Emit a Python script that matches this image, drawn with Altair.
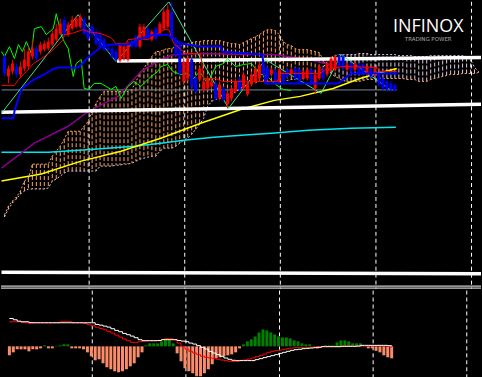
import altair as alt
import pandas as pd

# ---------------- price candles (level units) ----------------
BARS = list(range(99))
OPEN = [245,225,230,235,227,233,235,245,253,250,
        252,253,257,262,268,282,267,273,275,275,
        282,272,275,270,267,262,254,253,250,241,
        243,242,260,265,255,265,273,262,273,268,
        273,275,290,262,257,220,223,242,223,222,
        212,213,215,218,203,213,197,203,210,222,
        213,207,217,220,223,238,233,227,230,220,
        228,232,228,233,232,223,223,232,213,223,
        232,227,232,232,245,245,232,238,232,237,
        237,228,233,227,227,223,220,218,216]
HIGH = [248,236,242,238,240,253,255,262,256,260,
        261,264,271,278,283,285,280,286,286,288,
        285,275,278,273,270,265,257,256,253,259,
        257,260,262,267,278,278,275,272,275,280,
        293,297,300,265,260,243,245,244,226,235,
        223,226,223,221,220,215,211,215,223,225,
        230,220,230,236,240,242,236,234,233,234,
        230,234,234,235,234,232,234,234,229,237,
        234,240,245,247,247,247,239,240,240,239,
        239,237,235,235,229,225,222,220,218]
LOW = [225,218,227,224,224,230,232,242,240,247,
       250,251,255,260,266,265,265,271,273,273,
       266,261,264,256,253,250,250,243,240,239,
       241,240,253,253,253,263,261,260,261,266,
       271,273,261,245,225,217,220,212,208,220,
       209,211,213,201,201,200,193,200,208,210,
       211,205,215,218,221,226,221,225,218,218,
       218,223,226,221,218,221,221,216,208,221,
       221,225,230,230,233,231,230,228,230,226,
       226,226,223,225,215,211,210,210,210]
CLOSE = [228,233,238,227,235,242,250,253,243,257,
         258,260,268,273,278,267,277,282,283,285,
         268,263,267,258,255,252,252,245,242,257,
         255,258,255,255,275,275,263,270,263,278,
         290,292,263,247,228,240,243,215,210,233,
         220,223,220,203,217,202,208,213,220,212,
         227,218,227,233,237,228,223,232,220,232,
         220,225,232,223,220,230,232,218,227,235,
         223,238,243,245,235,233,237,230,238,228,
         228,235,225,233,217,213,212,212,211]

# ---------------- Ichimoku cloud (shifted 26 bars forward) ----------------
CLOUD_BARS = list(range(120))
SPAN_A = [86,95,100,104,110,120,123,137,137,137,
          137,137,145,150,155,162,170,170,170,170,
          175,180,190,198,205,210,210,210,210,210,
          210,210,212,220,228,233,240,245,250,250,
          252,253,253,255,256,257,258,259,260,260,
          261,261,261,261,261,260,259,258,258,257,
          259,261,263,265,267,270,272,272,271,267,
          260,257,256,253,252,252,252,251,250,249,
          242,234,228,225,223,221,220,220,220,220,
          221,222,222,222,223,223,223,223,223,223,
          223,222,222,222,220,220,220,222,223,224,
          225,226,227,227,227,228,228,228,228,229]
SPAN_B = [84,92,98,102,107,110,112,112,112,112,
          112,113,120,122,125,128,130,130,130,130,
          130,130,130,130,135,135,135,135,136,136,
          137,137,138,140,142,143,144,145,145,150,
          153,153,153,155,158,161,163,167,172,177,
          183,195,200,202,203,204,205,207,210,212,
          215,217,218,219,220,220,220,220,220,220,
          221,221,222,222,223,223,224,224,225,225,
          234,240,244,246,247,247,247,247,247,248,
          248,248,247,247,247,247,247,247,247,246,
          246,246,246,245,245,245,245,246,246,246,
          246,246,246,246,246,246,245,242,234,230]

# ---------------- indicator lines (bar, level) ----------------
TENKAN = [(-0.75,216),(2.5,216),(3.5,222),(5.5,230),(7.25,238),(9.25,243),(11.75,250),
          (13.5,257),(14.75,262),(15,267),(16.75,268),(19.75,272),(21,270),(24.25,268),
          (26.75,264),(28,258),(30.5,258),(31,262),(33.5,263),(36,262),(38,267),(40,272),
          (41.25,272),(42.5,258),(45.5,248),(49.25,248),(50,223),(53,223),(54.75,220),
          (68.5,220),(69.25,228),(79.25,228),(80.5,232),(85,235),(93.5,234),(94.25,230),
          (98.5,230)]
KIJUN = [(-0.75,183),(2.25,183),(2.5,190),(3.5,203),(4.25,212),(5,215),(7.5,222),(10,227),
         (12.5,233),(13.75,234),(18.5,234),(20,240),(21.25,245),(23.5,252),(24.25,255),
         (26.75,257),(31,257),(33.5,262),(37.5,267),(41,267),(44.25,258),(49.25,255),
         (54.25,255),(54.75,250),(64.75,247),(65.5,218),(83.75,218),(87,228),(98.75,228)]
CHIKOU = [(-0.75,250),(0,245),(1.25,255),(2.5,243),(3.5,257),(4.5,250),(5.5,260),(6.75,248),
          (7.5,273),(9.25,275),(10.5,267),(12.25,273),(13,288),(14.25,267),(15,260),(16,253),
          (17.25,225),(18,238),(19.25,242),(20,213),(21.25,212),(22.5,218),(24.25,218),
          (26.75,212),(28,215),(29.25,203),(31,215),(32.5,220),(34.25,215),(36.25,223),
          (38.5,230),(39.25,235),(41,237),(42.25,230),(44.25,227),(46,228),(47.5,223),
          (49,230),(51,218),(53,235),(55,238),(56,243),(58,235),(60,237),(62,238),(64,228),
          (66,225),(68,217),(70,212),(72,211)]
ZIGZAG = [(-0.75,188),(18.5,287),(28,240),(41.25,300),(56.25,193),(65.5,242),(79.5,208),
          (84.5,247),(96.75,212)]
MA_PURPLE = [(-0.75,133),(7.5,158),(16,175),(20,187),(23.5,195),(28.5,205),(34.25,230),
             (39.25,242),(42.5,247),(49.25,248),(59.5,247),(67.75,247),(76.25,242),(81.75,237)]
MA_YELLOW = [(-0.75,120),(9.25,127),(19.25,140),(29.25,150),(39.25,163),(49.25,178),
             (59.5,192),(67.75,201),(74.25,205),(82.5,213),(89.25,223),(93.5,228),(98.5,233)]
MA_CYAN = [(-0.75,149),(11,149),(22.5,152),(32.5,155),(39.25,158),(45,161),(52.5,164),
           (59.5,166),(67,168),(76.25,171),(87,173),(98.25,174)]
GREY_LEVEL = [(-0.75,211.5),(98.5,211.5)]
TREND_UPPER = [(28.25,240.5),(119.75,244)]
TREND_MIDDLE = [(-0.75,189),(119.75,197)]
TREND_LOWER = [(-0.75,28.5),(119.75,27)]
PANEL_BORDERS = [14.5, 12.5]
PERIOD_SEPARATORS = [21.25, 45.25, 69.25, 93.25, 117.25]

# ---------------- MACD panel ----------------
MACD_HIST = [-9,-6,-3,-3,-3,-5,-3,-3,-2,1,
             -2,-2,0.5,1,2,2,-2,-2,-2,-3,
             -6,-10,-14,-13,-17,-21,-23,-25,-26,-25,
             -23,-20,-17,-11,-6,1,3,3,3,5,
             8,7,3,-7,-15,-22,-25,-27,-30,-30,
             -27,-23,-18,-12,-11,-10,-9,-8,-6,-2,
             2,5,7,10,14,17,16,14,12,10,
             9,9,8,6,5,3,2,2,0.5,-2,
             0.3,1,1,1,4,6,6,5,3,3,
             3,0.5,-2,-2,-4.5,-6,-9,-11,-12]
MACD_MAIN = [28,26.7,25.3,24.7,24.7,24,23.7,23.7,23.7,23.7,
             23.7,23.7,23.7,23.7,23.7,23.7,23.7,23.7,23.7,23.7,
             23.7,23.7,22,21.3,20.3,19.3,17.7,16,14.7,13,
             11.7,10.3,8.7,6.7,5.7,5.7,5.7,5.7,5.9,6.7,
             6.7,6.7,6.7,5.9,5.3,4.7,3.3,2.3,0.7,-1,
             -2.7,-5,-6.7,-8.3,-10,-11.7,-13,-14,-14.3,-14.3,
             -14.3,-14.3,-14.3,-13.3,-12.3,-11.3,-10.3,-9.3,-8.3,-7,
             -6,-5,-4,-3.3,-3,-2.3,-2,-1.7,-1.3,-1,
             -0.3,-0.3,-0.3,-0.3,-0.3,0,0,0,0,0.3,
             1,1,1,1,1,1,1,0.7,0]
MACD_SIGNAL = [24.7,24.7,24.7,24,23.7,23,23.7,23.7,23.7,23.7,
               23.7,23.7,23.7,24.7,24.7,24.7,23.7,23.7,23.7,23,
               21.7,20.7,19.3,18,16.7,15,13.3,11.3,9.3,7.3,
               5.7,4,4,4.7,5.3,5.7,5.7,5.7,5.7,7,
               7.7,7.7,6.7,3.3,0,-2.7,-5,-6.7,-8.3,-10,
               -11,-11.7,-12,-13,-13.7,-14.3,-15,-15.3,-15,-14,
               -13.7,-12.7,-11.7,-10.3,-9.3,-7.7,-6,-5,-4.3,-3.7,
               -3,-2.3,-1.7,-1.3,-1.3,-1.3,-1.3,-1,-0.7,-0.3,
               -0.3,-0.3,-0.3,-0.3,-0.3,0.3,0.3,0.3,0.3,0.3,
               0.3,0.3,0.7,0.7,0.7,0.7,0.7,-0.3,-1.3]

# ---------------- scales & helpers ----------------
XS = alt.Scale(domain=[-0.875, 119.625], nice=False, zero=False)
YS = alt.Scale(domain=[12, 300], nice=False, zero=False)
MS = alt.Scale(domain=[-33, 56], nice=False, zero=False)


def xq(field="bar"):
    return alt.X(f"{field}:Q", scale=XS, axis=None)


def yq(field, scale=YS):
    return alt.Y(f"{field}:Q", scale=scale, axis=None)


def path(points, color, width, dash=None, scale=YS):
    df = pd.DataFrame(points, columns=["bar", "level"])
    df["i"] = range(len(df))
    kw = dict(color=color, strokeWidth=width, clip=True)
    if dash:
        kw["strokeDash"] = dash
    return alt.Chart(df).mark_line(**kw).encode(x=xq(), y=yq("level", scale), order="i:Q")


def separators():
    df = pd.DataFrame({"bar": PERIOD_SEPARATORS})
    return alt.Chart(df).mark_rule(color="white", strokeWidth=1, strokeDash=[4, 3]).encode(x=xq())


# cloud
kdf = pd.DataFrame({"bar": CLOUD_BARS, "spanA": SPAN_A, "spanB": SPAN_B})
hatch = alt.Chart(kdf).mark_rule(strokeWidth=1, strokeDash=[4, 2], clip=True).encode(
    x=xq(), y=yq("spanA"), y2="spanB:Q",
    color=alt.condition("datum.spanA >= datum.spanB", alt.value("#FFA25E"), alt.value("#E2C8E2")))
edge_a = alt.Chart(kdf).mark_line(color="#FFA25E", strokeWidth=1, strokeDash=[2, 2], clip=True).encode(
    x=xq(), y=yq("spanA"))
edge_b = alt.Chart(kdf).mark_line(color="#E2C8E2", strokeWidth=1, strokeDash=[2, 2], clip=True).encode(
    x=xq(), y=yq("spanB"))

# candles
cdf = pd.DataFrame({"bar": BARS, "open": OPEN, "high": HIGH, "low": LOW, "close": CLOSE})
ccol = alt.condition("datum.close >= datum.open", alt.value("#FF0000"), alt.value("#0000FF"))
wicks = alt.Chart(cdf).mark_rule(strokeWidth=1).encode(x=xq(), y=yq("low"), y2="high:Q", color=ccol)
bodies = alt.Chart(cdf).mark_rule(strokeWidth=3).encode(x=xq(), y=yq("open"), y2="close:Q", color=ccol)

borders = alt.Chart(pd.DataFrame({"level": PANEL_BORDERS})).mark_rule(
    color="white", strokeWidth=1).encode(y=yq("level"))

logo = alt.Chart(pd.DataFrame({"t": ["INFINOX"]})).mark_text(
    font="Open Sans", fontSize=18, fontWeight="normal", color="white", align="center",
    baseline="alphabetic").encode(text="t:N", x=alt.value(429), y=alt.value(30))
tagline = alt.Chart(pd.DataFrame({"t": ["TRADING POWER"]})).mark_text(
    font="DejaVu Sans", fontSize=5.5, color="#a8a8a8", align="center",
    baseline="alphabetic").encode(text="t:N", x=alt.value(429), y=alt.value(39.5))

main = alt.layer(
    hatch, edge_a, edge_b,
    separators(),
    path(GREY_LEVEL, "#778899", 1),
    path(MA_CYAN, "#00E5EE", 1.5),
    path(MA_YELLOW, "#FFFF00", 1.5),
    path(MA_PURPLE, "#8B008B", 1.5),
    path(TREND_UPPER, "white", 3.5),
    path(TREND_MIDDLE, "white", 3.5),
    path(TREND_LOWER, "white", 3.5),
    borders,
    path(CHIKOU, "#00FF00", 1),
    path(ZIGZAG, "#3CE68C", 1),
    wicks, bodies,
    path(TENKAN, "#FF0000", 1),
    path(KIJUN, "#0000FF", 2),
    logo, tagline,
).properties(width=482, height=288)

# MACD
mdf = pd.DataFrame({"bar": BARS, "hist": MACD_HIST, "macd": MACD_MAIN, "signal": MACD_SIGNAL})
hist = alt.Chart(mdf).mark_bar(size=3).encode(
    x=xq(), y=yq("hist", MS), y2=alt.datum(0),
    color=alt.condition("datum.hist >= 0", alt.value("#008000"), alt.value("#FA8C69")))
macd_line = alt.Chart(mdf).mark_line(color="white", strokeWidth=1, interpolate="step-after").encode(
    x=xq(), y=yq("macd", MS))
signal_line = alt.Chart(mdf).mark_line(color="#FF0000", strokeWidth=1, interpolate="step-after").encode(
    x=xq(), y=yq("signal", MS))

macd = alt.layer(separators(), hist, signal_line, macd_line).properties(width=482, height=89)

chart = alt.vconcat(main, macd, spacing=0).properties(
    background="black", padding=0
).configure_view(strokeWidth=0)

chart.save("out.html", embed_options={"renderer": "svg", "actions": False})
